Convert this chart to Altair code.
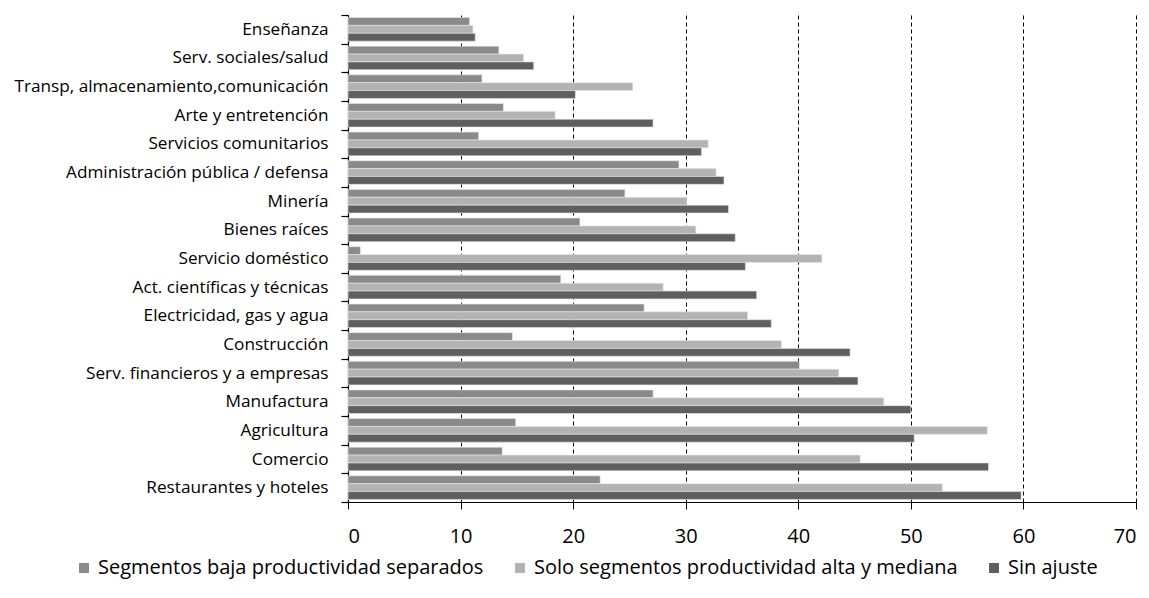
import altair as alt
import pandas as pd

# Sectors, listed top to bottom
categories = [
    "Enseñanza",
    "Serv. sociales/salud",
    "Transp, almacenamiento,comunicación",
    "Arte y entretención",
    "Servicios comunitarios",
    "Administración pública / defensa",
    "Minería",
    "Bienes raíces",
    "Servicio doméstico",
    "Act. científicas y técnicas",
    "Electricidad, gas y agua",
    "Construcción",
    "Serv. financieros y a empresas",
    "Manufactura",
    "Agricultura",
    "Comercio",
    "Restaurantes y hoteles",
]

seg_baja = [10.8, 13.4, 11.9, 13.8, 11.6, 29.4, 24.6, 20.6, 1.1, 18.9, 26.3, 14.6,
            40.1, 27.1, 14.9, 13.7, 22.4]
solo_alta = [11.1, 15.6, 25.3, 18.4, 32.0, 32.7, 30.1, 30.9, 42.1, 28.0, 35.5, 38.5,
             43.6, 47.6, 56.8, 45.5, 52.8]
sin_ajuste = [11.3, 16.5, 20.2, 27.1, 31.4, 33.4, 33.8, 34.4, 35.3, 36.3, 37.6, 44.6,
              45.3, 50.0, 50.3, 56.9, 59.8]

series = [
    "Segmentos baja productividad separados",
    "Solo segmentos productividad alta y mediana",
    "Sin ajuste",
]
colors = ["#8a8a8a", "#b3b3b3", "#5f5f5f"]
x_ticks = [0, 10, 20, 30, 40, 50, 60, 70]

rows = []
for i, sector in enumerate(categories):
    for name, vals in zip(series, [seg_baja, solo_alta, sin_ajuste]):
        rows.append({"sector": sector, "serie": name, "valor": vals[i]})
df = pd.DataFrame(rows)

FONT = "Open Sans"

chart = alt.Chart(df).mark_bar(stroke="#e8e8e8", strokeWidth=0.6).encode(
    x=alt.X(
        "valor:Q",
        scale=alt.Scale(domain=[0, 70], nice=False, zero=True),
        axis=alt.Axis(
            values=x_ticks,
            title=None,
            grid=True,
            gridColor="#000000",
            gridDash=[4, 3],
            gridWidth=1,
            gridOpacity=1,
            domainColor="#000000",
            domainWidth=1.2,
            tickColor="#000000",
            tickSize=7,
            tickWidth=1,
            labelFontSize=20,
            labelColor="#000000",
            labelPadding=17,
            labelFont=FONT,
        ),
    ),
    y=alt.Y(
        "sector:N",
        sort=categories,
        scale=alt.Scale(paddingInner=0, paddingOuter=0),
        axis=alt.Axis(
            title=None,
            tickBand="extent",
            domainColor="#000000",
            domainWidth=1.2,
            tickColor="#000000",
            tickSize=7,
            tickWidth=1.2,
            labelFontSize=17.2,
            labelColor="#000000",
            labelPadding=13,
            labelFont=FONT,
            labelLimit=0,
        ),
    ),
    yOffset=alt.YOffset(
        "serie:N",
        sort=series,
        scale=alt.Scale(paddingInner=0, paddingOuter=0.32),
    ),
    color=alt.Color(
        "serie:N",
        sort=series,
        scale=alt.Scale(domain=series, range=colors),
        legend=alt.Legend(
            title=None,
            orient="none",
            direction="horizontal",
            columns=3,
            legendX=-274,
            legendY=543,
            symbolType="square",
            symbolSize=100,
            symbolStrokeWidth=0,
            symbolOpacity=1,
            labelFontSize=20,
            labelFont=FONT,
            labelColor="#000000",
            labelOffset=4,
            columnPadding=26,
            labelLimit=0,
        ),
    ),
).properties(
    width=788,
    height=487,
    autosize=alt.AutoSizeParams(type="none"),
    padding={"left": 348, "top": 15, "right": 13, "bottom": 96},
    background="white",
).configure_view(stroke=None)

chart.save("out.html", embed_options={"renderer": "svg", "actions": False})
